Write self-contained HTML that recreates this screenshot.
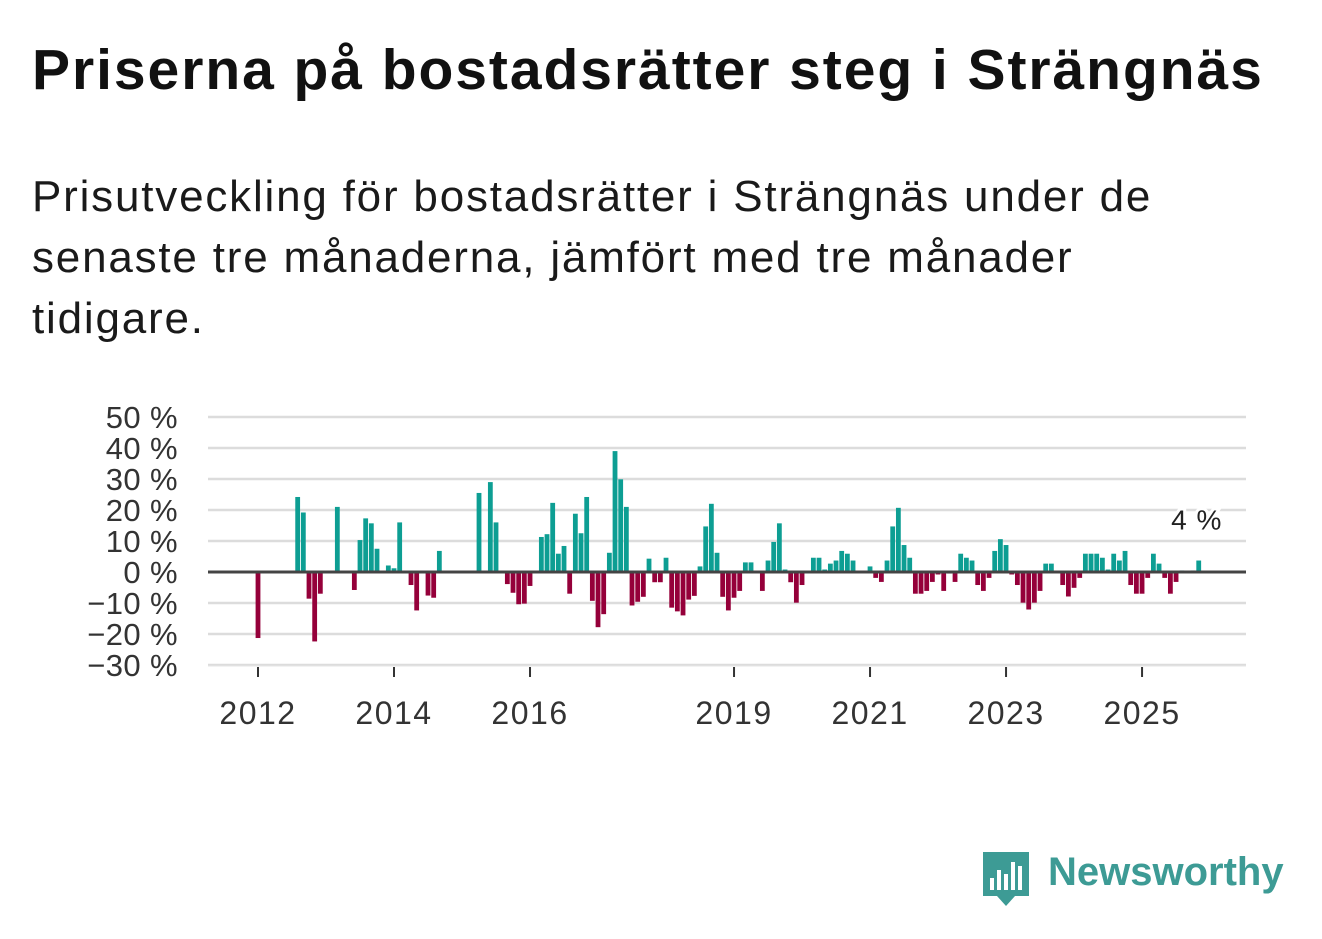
<!DOCTYPE html>
<html><head><meta charset="utf-8"><style>
body{margin:0;width:1322px;height:939px;background:#fff;overflow:hidden;font-family:"Liberation Sans",sans-serif;color:#111}
h1{position:absolute;left:32px;top:42px;margin:0;font-size:57px;line-height:1;font-weight:bold;letter-spacing:1.95px;white-space:nowrap}
.sub{position:absolute;left:32px;top:166px;margin:0;font-size:44px;line-height:61px;letter-spacing:1.8px;width:1280px;color:#1a1a1a;white-space:nowrap}
svg{position:absolute;left:0;top:0}
.logo{position:absolute;left:1048px;top:850px;font-size:40px;font-weight:bold;color:#3d9b95}
</style></head><body>
<h1>Priserna på bostadsrätter steg i Strängnäs</h1>
<p class="sub">Prisutveckling för bostadsrätter i Strängnäs under de<br>senaste tre månaderna, jämfört med tre månader<br>tidigare.</p>
<svg id="chart" width="1322" height="939"></svg>
<svg width="1322" height="939" style="pointer-events:none">
<path d="M983 852 h46 v44 h-14 l-9 10 l-9 -10 h-14 z" fill="#3d9b95"/>
<rect x="990" y="878" width="4" height="12" fill="#fff"/><rect x="997" y="870" width="4" height="20" fill="#fff"/><rect x="1004" y="874" width="4" height="16" fill="#fff"/><rect x="1011" y="862" width="4" height="28" fill="#fff"/><rect x="1018" y="866" width="4" height="24" fill="#fff"/>
</svg>
<div class="logo">Newsworthy</div>
<script>
const yTicks=[50,40,30,20,10,0,-10,-20,-30];
const yearLabels=["2012","2014","2016","2019","2021","2023","2025"];
const yearMonthIdx=[0,24,48,84,108,132,156];
const values=[-21.3,null,null,null,null,null,null,24.2,19.2,-8.6,-22.4,-7,null,null,21,null,null,-5.8,10.3,17.3,15.7,7.5,null,2.1,1.2,16,null,-4.2,-12.4,null,-7.6,-8.3,6.8,null,null,null,null,null,null,25.5,null,29,16,null,-3.9,-6.7,-10.4,-10.2,-4.5,null,11.3,12.2,22.3,5.9,8.4,-7,18.8,12.5,24.2,-9.3,-17.8,-13.6,6.2,39,29.9,21,-10.8,-9.6,-8,4.3,-3.3,-3.3,4.6,-11.5,-12.7,-14,-8.9,-7.7,1.8,14.7,22,6.2,-8,-12.4,-8.3,-6.1,3.1,3.1,null,-6.1,3.7,9.7,15.7,0.8,-3.3,-9.9,-4.2,null,4.6,4.6,0.8,2.7,3.7,6.8,5.9,3.7,null,null,1.8,-1.9,-3.2,3.7,14.7,20.7,8.7,4.6,-7,-7,-6.1,-3.2,-0.8,-6.1,-0.5,-3.2,5.9,4.6,3.7,-4.2,-6.1,-1.9,6.8,10.6,8.7,-0.8,-4.2,-9.9,-12.1,-9.9,-6.1,2.7,2.7,null,-4.2,-7.9,-5.1,-1.9,5.9,5.9,5.9,4.6,0.8,5.9,3.7,6.8,-4.2,-7,-7,-1.9,5.9,2.7,-1.9,-7,-3.2,0.5,null,0.5,3.7];
const lastLabel="4 %";
const NS="http://www.w3.org/2000/svg";
const svg=document.getElementById('chart');
const X0=208,X1=1246;
const y=v=>572-(v*3.1);
const x=m=>258+m*5.667;
function el(t,a){const e=document.createElementNS(NS,t);for(const k in a)e.setAttribute(k,a[k]);svg.appendChild(e);return e;}
yTicks.forEach(t=>{
 if(t!==0){const g=el('line',{x1:X0,x2:X1,y1:y(t),y2:y(t),stroke:'#dcdcdc','stroke-width':2.5});
 
 }
 const l=el('text',{x:178,y:y(t)+11,'text-anchor':'end','font-size':31,'letter-spacing':0.4,fill:'#333','font-family':'Liberation Sans, sans-serif'});
 l.textContent=(t<0?'\u2212'+(-t):t)+' %';
 
 
});
const bl=el('line',{x1:X0,x2:X1,y1:y(-30)+1,y2:y(-30)+1,stroke:'#e6e6e6','stroke-width':1});


yearLabels.forEach((lab,i)=>{
 const xx=x(yearMonthIdx[i]);
 const tk=el('line',{x1:xx,x2:xx,y1:y(-30)+2,y2:y(-30)+12,stroke:'#333','stroke-width':2});
 
 
 const t=el('text',{x:xx,y:724,'text-anchor':'middle','font-size':32,'letter-spacing':1.5,fill:'#333','font-family':'Liberation Sans, sans-serif'});
 t.textContent=lab;
 
 
});
values.forEach((v,m)=>{
 if(v===null)return;
 const top=Math.min(y(v),y(0)),h=Math.abs(y(v)-y(0));
 const r=el('rect',{x:x(m)-2.4,y:top,width:4.8,height:Math.max(h,0.8),fill:v>=0?'#0d9e93':'#95003a'});
 
 
});
const z=el('line',{x1:X0,x2:X1,y1:y(0),y2:y(0),stroke:'#444','stroke-width':3});


const lastIdx=values.length-1;
const lt=el('text',{x:x(lastIdx)-2,y:y(values[lastIdx])-31,'text-anchor':'middle','font-size':28,'letter-spacing':1,fill:'#222',stroke:'#fff','stroke-width':6,'paint-order':'stroke','font-family':'Liberation Sans, sans-serif'});
lt.textContent=lastLabel;


</script>
</body></html>
